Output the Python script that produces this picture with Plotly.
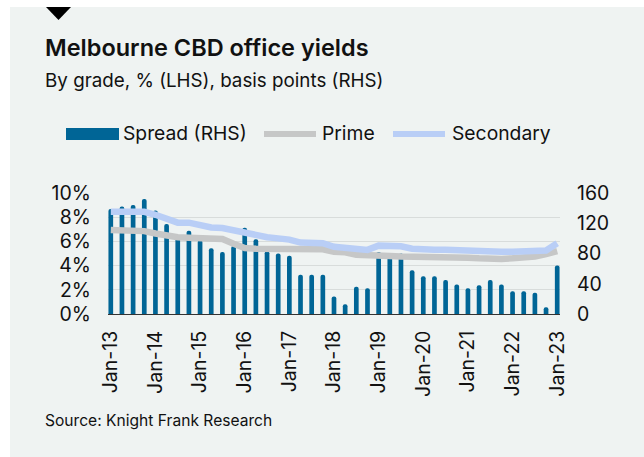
import plotly.graph_objects as go

quarters = []
for yr in range(13, 24):
    for m in ["Jan", "Apr", "Jul", "Oct"]:
        quarters.append(f"{m}-{yr}")
quarters = quarters[:41]  # Jan-13 .. Jan-23

spread_bp = [139, 142, 144, 152, 137, 119, 100, 110, 98, 87,
             82, 90, 114, 99, 83, 80, 77, 52, 52, 52,
             23, 13, 36, 34, 82, 80, 80, 58, 50, 50,
             45, 39, 34, 38, 45, 39, 30, 30, 28, 9, 64]
prime = [6.95, 6.95, 6.95, 6.85, 6.65, 6.45, 6.35, 6.3, 6.25, 6.2,
         6.2, 5.8, 5.45, 5.4, 5.4, 5.4, 5.4, 5.35, 5.35, 5.35,
         5.15, 5.1, 4.9, 4.9, 4.85, 4.8, 4.75, 4.75, 4.75, 4.75,
         4.75, 4.7, 4.65, 4.6, 4.55, 4.55, 4.6, 4.65, 4.75, 4.95, 5.2]
secondary = [8.45, 8.45, 8.45, 8.45, 8.2, 7.85, 7.55, 7.55, 7.35, 7.15,
             7.1, 6.9, 6.65, 6.45, 6.35, 6.25, 6.15, 5.9, 5.9, 5.85,
             5.55, 5.45, 5.35, 5.3, 5.65, 5.65, 5.6, 5.4, 5.3, 5.3,
             5.3, 5.25, 5.2, 5.15, 5.15, 5.15, 5.15, 5.15, 5.2, 5.25, 5.85]
tick_labels = [q for q in quarters if q.startswith("Jan")]
pct_ticks = [0, 2, 4, 6, 8, 10]
bp_ticks = [0, 40, 80, 120, 160]

W, H = 644, 457
ML, MR, MT, MB = 108, 84, 193, 143
PW, PH = W - ML - MR, H - MT - MB

def px(x):
    return (x - ML) / PW

def py(y):
    return 1 - (y - MT) / PH

C_BAR = "#006596"
C_PRIME = "#c6c7c7"
C_SEC = "#b9cef6"
C_BG = "#eff3f2"
FONT = "Inter"
TICK = 19.5

fig = go.Figure()
fig.add_trace(go.Bar(x=quarters, y=spread_bp, marker=dict(color=C_BAR, line=dict(width=0),
                     cornerradius=2), width=0.42, name="Spread (RHS)", yaxis="y", showlegend=False))
fig.add_trace(go.Scatter(x=quarters, y=prime, mode="lines", line=dict(color=C_PRIME, width=6.5),
                         name="Prime", yaxis="y2", showlegend=False))
fig.add_trace(go.Scatter(x=quarters, y=secondary, mode="lines", line=dict(color=C_SEC, width=6.5),
                         name="Secondary", yaxis="y2", showlegend=False))

shapes = [
    dict(type="rect", xref="paper", yref="paper", x0=px(10), x1=px(660), y0=py(470), y1=py(7),
         fillcolor=C_BG, line=dict(width=0), layer="below"),
    dict(type="path", xref="paper", yref="paper",
         path=f"M {px(46)} {py(7)} L {px(71)} {py(7)} L {px(58.5)} {py(20)} Z",
         fillcolor="#000000", line=dict(width=0)),
    # legend symbols
    dict(type="rect", xref="paper", yref="paper", x0=px(66), x1=px(119), y0=py(140), y1=py(128),
         fillcolor=C_BAR, line=dict(width=0)),
    dict(type="line", xref="paper", yref="paper", x0=px(264), x1=px(316), y0=py(134), y1=py(134),
         line=dict(color=C_PRIME, width=6)),
    dict(type="line", xref="paper", yref="paper", x0=px(393), x1=px(445), y0=py(134), y1=py(134),
         line=dict(color=C_SEC, width=6)),
]

def ann(text, x, y, size, weight="normal"):
    return dict(text=text, xref="paper", yref="paper",
                x=px(x), y=py(y), xanchor="left", yanchor="middle", showarrow=False,
                font=dict(family=FONT, size=size, color="#111111", weight=weight))

annotations = [
    ann("Melbourne CBD office yields", 43, 48, 23.5, weight=600),
    ann("By grade, % (LHS), basis points (RHS)", 43, 80, 18.8),
    ann("Spread (RHS)", 121, 133, 19.3),
    ann("Prime", 320, 133, 19.3),
    ann("Secondary", 450, 133, 19.3),
    ann("Source: Knight Frank Research", 43, 420, 15.6),
]

fig.update_layout(
    width=W, height=H,
    margin=dict(l=ML, r=MR, t=MT, b=MB, pad=0),
    paper_bgcolor="white", plot_bgcolor="rgba(0,0,0,0)",
    font=dict(family=FONT, size=TICK, color="#111111"),
    showlegend=False,
    shapes=shapes, annotations=annotations,
    xaxis=dict(type="category", range=[-0.25, 40.25], tickmode="array",
               tickvals=tick_labels, ticktext=tick_labels, tickangle=-90,
               showgrid=False, showline=True, linecolor="#333333", linewidth=1,
               ticks="", ticklabelstandoff=8, tickfont=dict(size=TICK)),
    yaxis=dict(side="right", range=[0, 160], tickvals=bp_ticks, showgrid=False,
               zeroline=False, ticks="", ticklabelstandoff=16, tickfont=dict(size=TICK)),
    yaxis2=dict(side="left", overlaying="y", range=[0, 10], tickvals=pct_ticks,
                ticktext=[f"{v}%" for v in pct_ticks], showgrid=True, gridcolor="#d8dcdb",
                gridwidth=1, zeroline=False, ticks="", ticklabelstandoff=16,
                tickfont=dict(size=TICK)),
)

fig.write_html("out.html")
